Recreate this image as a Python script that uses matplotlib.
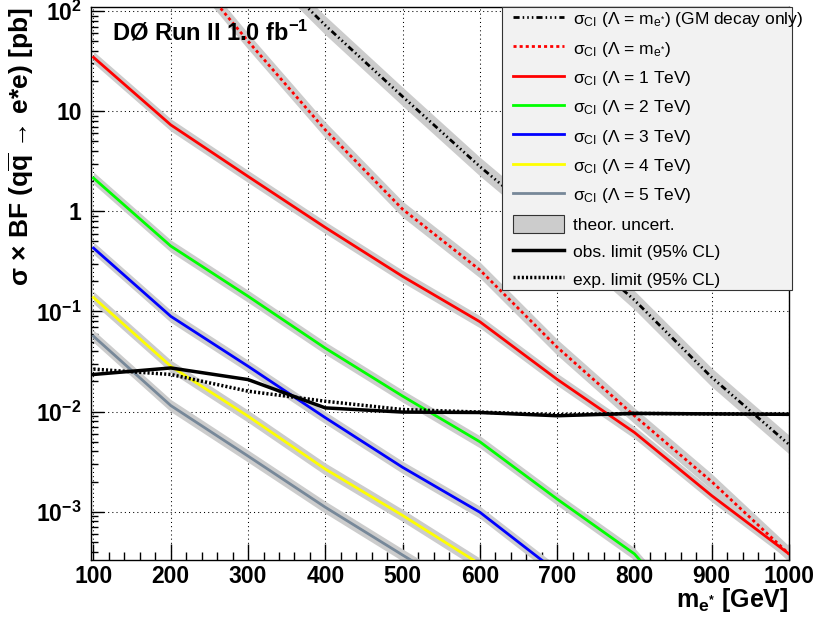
import numpy as np
import matplotlib
matplotlib.use('Agg')
import matplotlib.pyplot as plt
from matplotlib.lines import Line2D
from matplotlib.patches import Patch
from matplotlib.legend_handler import HandlerLine2D, HandlerPatch
from matplotlib.ticker import LogLocator, MultipleLocator, NullFormatter

plt.rcParams['font.family'] = ['Liberation Sans', 'DejaVu Sans']
plt.rcParams['mathtext.fontset'] = 'custom'
plt.rcParams['mathtext.rm'] = 'Liberation Sans'
plt.rcParams['mathtext.it'] = 'Liberation Sans:italic'
plt.rcParams['mathtext.bf'] = 'Liberation Sans:bold'

# excited electron mass points [GeV]
mass = [100, 200, 300, 400, 500, 600, 700, 800, 900, 1000]
mass_hi = [200, 300, 400, 500, 600, 700, 800, 900, 1000]

# sigma x BF [pb] for contact interaction production
xs_gm = [2500, 420, 72, 14, 2.8, 0.63, 0.13, 0.022, 0.0047]       # Lambda = m, GM decay only
xs_lam_m = [420, 50, 6.5, 1.05, 0.26, 0.044, 0.0091, 0.0020, 0.00038]  # Lambda = m
xs_1tev = [34.5, 7.3, 2.23, 0.69, 0.224, 0.079, 0.021, 0.0062, 0.00145, 0.00038]
xs_2tev = [2.15, 0.45, 0.142, 0.043, 0.0143, 0.0050, 0.00134, 0.00038, 0.00005]
xs_3tev = [0.43, 0.0895, 0.0284, 0.0087, 0.00278, 0.00099, 0.00025]
xs_4tev = [0.138, 0.0284, 0.0090, 0.00267, 0.00092, 0.00030]
xs_5tev = [0.0566, 0.0115, 0.0036, 0.00111, 0.00037, 0.000125]

# relative theoretical uncertainty on each prediction
unc_gm = 0.24
unc_lam_m = 0.2
unc_fixed = 0.15

# 95% CL limits [pb]
obs_limit = [0.0235, 0.0273, 0.0209, 0.0109, 0.0099, 0.0098, 0.0091, 0.0096, 0.0095, 0.0094]
exp_limit = [0.0266, 0.0235, 0.0160, 0.0127, 0.0105, 0.0099, 0.0093, 0.0096, 0.0095, 0.0094]

band_color = '#cccccc'
lw_xs = 2.0

fig = plt.figure(figsize=(8.18, 6.23), dpi=100)
ax = fig.add_axes([0.1109, 0.1011, 0.8536, 0.8876])
ax.set_yscale('log')
ax.set_xlim(96.4, 1000)
ax.set_ylim(3.3e-4, 109.6)


def draw_xs(x, y, unc, **style):
    x = np.array(x[:len(y)], dtype=float)
    y = np.array(y, dtype=float)
    ax.fill_between(x, y / (1 + unc), y * (1 + unc), color=band_color, lw=0, zorder=2)
    ax.plot(x, y, zorder=3, **style)


gm_dash = (0, (2.2, 1.1, 0.55, 1.1, 0.55, 1.1, 0.55, 1.1))
red_dash = (0, (1.1, 1.1))
dot_dash = (0, (0.6, 0.6))
draw_xs(mass_hi, xs_gm, unc_gm, color='black', lw=lw_xs, ls=gm_dash)
draw_xs(mass_hi, xs_lam_m, unc_lam_m, color='red', lw=lw_xs, ls=red_dash)
draw_xs(mass, xs_1tev, unc_fixed, color='#ff0000', lw=lw_xs)
draw_xs(mass, xs_2tev, unc_fixed, color='#00ff00', lw=lw_xs)
draw_xs(mass, xs_3tev, unc_fixed, color='#0000ff', lw=lw_xs)
draw_xs(mass, xs_4tev, unc_fixed, color='#ffff00', lw=lw_xs)
draw_xs(mass, xs_5tev, unc_fixed, color='#778899', lw=lw_xs)

ax.plot(mass, exp_limit, color='black', lw=2.5, ls=dot_dash, zorder=4)
ax.plot(mass, obs_limit, color='black', lw=2.5, zorder=4)

# axes, ticks and grid
yticks = [1e-3, 1e-2, 1e-1, 1, 10, 100]
ylabels = [r'$\mathbf{10^{-3}}$', r'$\mathbf{10^{-2}}$', r'$\mathbf{10^{-1}}$', '1', '10', r'$\mathbf{10^{2}}$']
ax.set_yticks(yticks, labels=ylabels)
ax.yaxis.set_minor_locator(LogLocator(base=10, subs=np.arange(2, 10), numticks=20))
ax.yaxis.set_minor_formatter(NullFormatter())
ax.set_xticks(np.arange(100, 1001, 100))
ax.xaxis.set_minor_locator(MultipleLocator(20))

for lab in ax.get_xticklabels() + ax.get_yticklabels():
    lab.set_fontweight('bold')
ax.tick_params(axis='both', which='both', direction='in', top=False, right=False, width=1)
ax.tick_params(axis='x', which='major', length=11.5, pad=3.6, labelsize=16.5)
ax.tick_params(axis='x', which='minor', length=6)
ax.tick_params(axis='y', which='major', length=9, pad=6.5, labelsize=16.5)
ax.tick_params(axis='y', which='minor', length=5)
for sp in ax.spines.values():
    sp.set_linewidth(1.0)

ax.grid(True, which='major', color='black', lw=0.75, ls=(0, (1, 3)), zorder=1)
ax.set_axisbelow(True)

ax.set_ylabel('σ × BF (q$\\mathbf{\\overline{q}}$ → e*e) [pb]', fontsize=19,
              fontweight='bold', loc='top')
ax.yaxis.set_label_coords(-0.078, 1.0)
ax.set_xlabel('m$_{\\mathbf{e^{*}}}$ [GeV]', fontsize=18, fontweight='bold', loc='right')
ax.xaxis.set_label_coords(1.0, -0.047)

ax.text(0.0305, 0.940, 'DØ Run II 1.0 fb$^{\\mathbf{-1}}$', transform=ax.transAxes,
        fontsize=17, fontweight='bold', va='baseline', zorder=6)

# legend
handles = [
    Line2D([], [], color='black', lw=lw_xs, ls=gm_dash),
    Line2D([], [], color='red', lw=lw_xs, ls=red_dash),
    Line2D([], [], color='#ff0000', lw=lw_xs),
    Line2D([], [], color='#00ff00', lw=lw_xs),
    Line2D([], [], color='#0000ff', lw=lw_xs),
    Line2D([], [], color='#ffff00', lw=lw_xs),
    Line2D([], [], color='#778899', lw=lw_xs),
    Patch(facecolor=band_color, edgecolor='#333333', lw=0.8),
    Line2D([], [], color='black', lw=2.5),
    Line2D([], [], color='black', lw=2.5, ls=dot_dash),
]
labels = [
    'σ$_{\\rm CI}$ (Λ = m$_{\\rm e^{*}}$) (GM decay only)',
    'σ$_{\\rm CI}$ (Λ = m$_{\\rm e^{*}}$)',
    'σ$_{\\rm CI}$ (Λ = 1 TeV)',
    'σ$_{\\rm CI}$ (Λ = 2 TeV)',
    'σ$_{\\rm CI}$ (Λ = 3 TeV)',
    'σ$_{\\rm CI}$ (Λ = 4 TeV)',
    'σ$_{\\rm CI}$ (Λ = 5 TeV)',
    'theor. uncert.',
    'obs. limit (95% CL)',
    'exp. limit (95% CL)',
]
leg = ax.legend(handles, labels, loc='upper left', bbox_to_anchor=(0.589, 0.0, 0.415, 1.0),
                mode='expand', borderaxespad=0, fontsize=12.5, handlelength=3.4,
                handleheight=1.15, handletextpad=0.55, labelspacing=0.57, borderpad=0.15,
                fancybox=False, framealpha=1, facecolor='#f2f2f2', edgecolor='#333333',
                handler_map={Line2D: HandlerLine2D(xpad=0.5), Patch: HandlerPatch(xpad=0.5)})
leg.get_frame().set_linewidth(0.8)
leg.set_zorder(5)

fig.savefig('out.png', dpi=100)
